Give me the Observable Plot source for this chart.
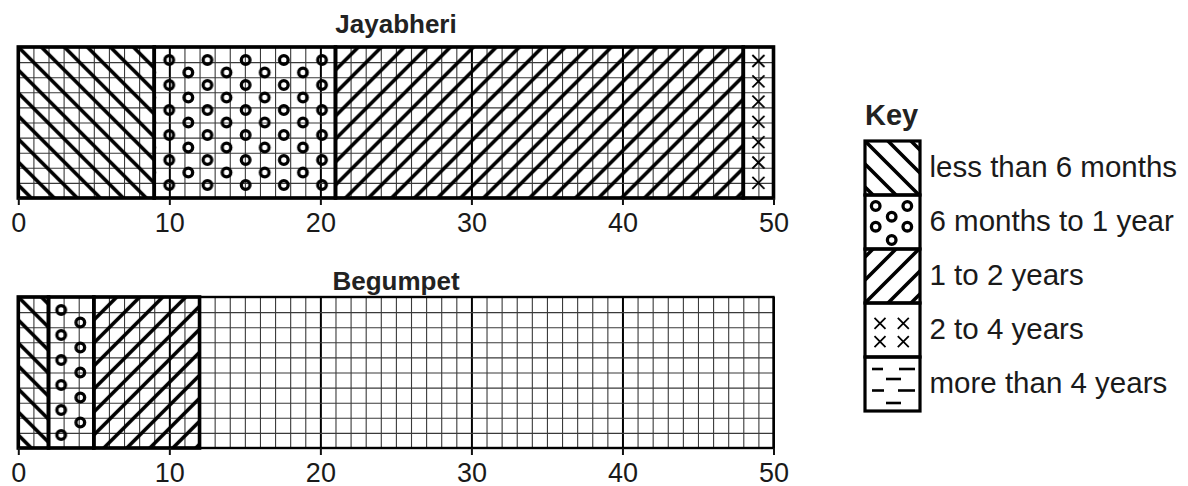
<!DOCTYPE html>
<html><head><meta charset="utf-8">
<script src="https://cdn.jsdelivr.net/npm/d3@7"></script>
<script src="https://cdn.jsdelivr.net/npm/@observablehq/plot@0.6"></script>
<style>
html,body{margin:0;padding:0;background:#fff}
body{width:1188px;height:486px;overflow:hidden;position:relative;font-family:"Liberation Sans",Arial,sans-serif;color:#111}
.t{position:absolute;font-weight:bold;color:#222;white-space:nowrap}
.p{position:absolute}
</style></head><body>
<div class="t" style="left:18px;width:756px;text-align:center;top:9px;font-size:26px">Jayabheri</div>
<div class="t" style="left:18px;width:756px;text-align:center;top:266px;font-size:26px">Begumpet</div>
<div class="t" style="left:865px;top:99px;font-size:29px">Key</div>
<div class="p" id="bar1" style="left:0;top:40px"></div>
<div class="p" id="bar2" style="left:0;top:290px"></div>
<div class="p" id="key" style="left:840px;top:90px"></div>
<script>
// ---- data ----
const categories = ["less than 6 months", "6 months to 1 year", "1 to 2 years", "2 to 4 years", "more than 4 years"];
const places = ["Jayabheri", "Begumpet"];
const jayabheri = [9, 12, 27, 2, 0];
const begumpet = [2, 3, 7, 0, 0];
const xTicks = [0, 10, 20, 30, 40, 50];
const xMax = 50;
const rows = 10;

const FONT = '"Liberation Sans", Arial, sans-serif';
const patternKinds = ["back", "rings", "slash", "cross", "dash"];

function patternSVG(id, kind, x0, y0, w, h, opts = {}) {
  const s = 23;
  if (kind === "back") {
    return `<pattern id="${id}" patternUnits="userSpaceOnUse" x="${x0}" y="${y0}" width="${s}" height="${s}">
      <path d="M-2,-2L${s+2},${s+2}M-2,${s-2}L2,${s+2}M${s-2},-2L${s+2},2" stroke="#000" stroke-width="3.6" fill="none"/></pattern>`;
  }
  if (kind === "slash") {
    const oy = opts.fromBottom ? y0 + h : y0;
    return `<pattern id="${id}" patternUnits="userSpaceOnUse" x="${x0}" y="${oy}" width="${s}" height="${s}">
      <path d="M-2,${s+2}L${s+2},-2M-2,2L2,-2M${s-2},${s+2}L${s+2},${s-2}" stroke="#000" stroke-width="3.6" fill="none"/></pattern>`;
  }
  if (kind === "rings") {
    let c = "";
    for (const [cx, cy] of opts.points) c += `<circle cx="${cx}" cy="${cy}" r="4.3" fill="none" stroke="#000" stroke-width="3.3"/>`;
    return `<pattern id="${id}" patternUnits="userSpaceOnUse" x="${x0}" y="${y0}" width="${opts.tw}" height="${h}">${c}</pattern>`;
  }
  if (kind === "cross") {
    let c = "";
    const a = opts.half;
    for (const [cx, cy] of opts.points) c += `<path d="M${cx-a},${cy-a}L${cx+a},${cy+a}M${cx-a},${cy+a}L${cx+a},${cy-a}" stroke="#000" stroke-width="1.8" fill="none"/>`;
    return `<pattern id="${id}" patternUnits="userSpaceOnUse" x="${x0}" y="${y0}" width="${opts.tw}" height="${h}">${c}</pattern>`;
  }
  if (kind === "dash") {
    let c = "";
    for (const [xa, xb, yy] of opts.segs) c += `<path d="M${xa},${yy}L${xb},${yy}" stroke="#000" stroke-width="2.6"/>`;
    return `<pattern id="${id}" patternUnits="userSpaceOnUse" x="${x0}" y="${y0}" width="${w}" height="${h}">${c}</pattern>`;
  }
  return "";
}

function barPlot(place, values, ringOffset) {
  const stops = d3.cumsum(values);
  const segs = categories.map((c, i) => ({cat: c, i, start: stops[i] - values[i], end: stops[i]}))
    .filter(d => d.end > d.start);
  const pid = d => `${place}-${d.i}`;
  const plot = Plot.plot({
    width: 800, height: 200,
    marginLeft: 18.3, marginRight: 26.5, marginTop: 7, marginBottom: 42,
    x: {domain: [0, xMax], axis: null},
    y: {domain: [0, rows], axis: null},
    color: {type: "identity"},
    style: {fontFamily: FONT, background: "transparent", color: "#111", overflow: "visible"},
    marks: [
      Plot.ruleX(d3.range(0, xMax + 1), {y1: 0, y2: rows,
        stroke: d => d % 10 === 0 ? "#000" : "#3a3a3a", strokeWidth: d => d % 10 === 0 ? 2 : 1.1}),
      Plot.ruleY(d3.range(0, rows + 1), {x1: 0, x2: xMax, stroke: "#3a3a3a", strokeWidth: 1.1}),
      Plot.rect([0], {x1: 0, x2: xMax, y1: 0, y2: rows, fill: "none", stroke: "#000", strokeWidth: 2.4}),
      Plot.rect(segs, {x1: "start", x2: "end", y1: 0, y2: rows, fill: d => `url(#${pid(d)})`, stroke: "#000", strokeWidth: 3.6}),
      Plot.axisX(xTicks, {tickSize: 7, tickPadding: 7, fontSize: 27, strokeWidth: 2, fill: "#1a1a1a"})
    ]
  });
  const xs = plot.scale("x"), ys = plot.scale("y");
  const top = ys.apply(rows), bottom = ys.apply(0), H = bottom - top;
  const u = xs.apply(1) - xs.apply(0);
  let defs = "";
  for (const d of segs) {
    const x0 = xs.apply(d.start), x1 = xs.apply(d.end);
    const kind = patternKinds[d.i];
    if (kind === "rings") {
      const dx = 19.1, tw = 2 * dx, pts = [];
      for (let k = 0; k < 6; k++) pts.push([dx / 2, 13 + 25 * k]);
      for (let k = 0; k < 5; k++) pts.push([dx * 1.5, 25.5 + 25 * k]);
      defs += patternSVG(pid(d), kind, x0 + ringOffset - dx / 2, top, x1 - x0, H, {points: pts, tw});
    } else if (kind === "cross") {
      const tw = 2 * u, pts = [];
      for (let k = 0; k < 7; k++) pts.push([u, 14 + 20.3 * k]);
      defs += patternSVG(pid(d), kind, x0, top, x1 - x0, H, {points: pts, tw, half: 6});
    } else {
      defs += patternSVG(pid(d), kind, x0, top, x1 - x0, H);
    }
  }
  const g = document.createElementNS("http://www.w3.org/2000/svg", "defs");
  g.innerHTML = defs;
  plot.insertBefore(g, plot.firstChild);
  return plot;
}

document.getElementById("bar1").append(barPlot(places[0], jayabheri, 15));
document.getElementById("bar2").append(barPlot(places[1], begumpet, 12.7));

// ---- key ----
const key = Plot.plot({
  width: 348, height: 340,
  marginLeft: 25, marginRight: 268, marginTop: 51, marginBottom: 19,
  x: {domain: [0, 1], axis: null},
  y: {domain: categories, type: "band", padding: 0, axis: null},
  color: {type: "identity"},
  style: {fontFamily: FONT, background: "transparent", color: "#111", overflow: "visible"},
  marks: [
    Plot.barX(categories, {x1: 0, x2: 1, y: d => d, fill: (d, i) => `url(#key-${i})`, stroke: "#000", strokeWidth: 3.2}),
    Plot.text(categories, {x: 1, y: d => d, text: d => d, dx: 9, dy: -1, textAnchor: "start", fontSize: 29.5, fill: "#1a1a1a"})
  ]
});
{
  const xs = key.scale("x"), ys = key.scale("y");
  const bx = xs.apply(0), bw = xs.apply(1) - xs.apply(0), bh = ys.bandwidth;
  let defs = "";
  categories.forEach((c, i) => {
    const by = ys.apply(c);
    const kind = patternKinds[i];
    const id = `key-${i}`;
    if (kind === "back") defs += patternSVG(id, kind, bx, by, bw, bh);
    else if (kind === "slash") defs += patternSVG(id, kind, bx, by, bw, bh, {fromBottom: true});
    else if (kind === "rings") defs += patternSVG(id, kind, bx, by, bw, bh, {tw: bw,
      points: [[10.7, 11], [42.3, 11], [26.7, 21.7], [10.7, 31.7], [42.3, 31.7], [26.7, 45]]});
    else if (kind === "cross") defs += patternSVG(id, kind, bx, by, bw, bh, {tw: bw, half: 5.5,
      points: [[15, 20.3], [38.3, 20.3], [15, 38.7], [38.3, 38.7]]});
    else if (kind === "dash") defs += patternSVG(id, kind, bx, by, bw, bh, {
      segs: [[7, 18, 12], [34, 50, 12], [21, 36, 22], [7, 19, 33.5], [33, 50, 33.5], [21, 36, 46]]});
  });
  const g = document.createElementNS("http://www.w3.org/2000/svg", "defs");
  g.innerHTML = defs;
  key.insertBefore(g, key.firstChild);
}
document.getElementById("key").append(key);
</script>
</body></html>
